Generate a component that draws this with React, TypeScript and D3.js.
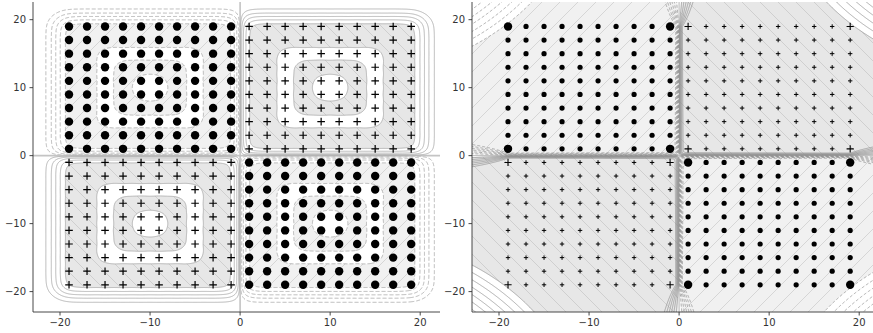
import React, { useMemo } from "react";
import * as d3 from "d3";

// ---------- data ----------
const coords = [-19, -17, -15, -13, -11, -9, -7, -5, -3, -1, 1, 3, 5, 7, 9, 11, 13, 15, 17, 19];
const quadrantCenters = [-10, 10];
const ringRadii = [1, 3, 5, 7, 9];
const ringWeights = [0.5, 1.0, 0.5, 1.0, 1.0];
const supportVectors: [number, number][] = [
  [-19, 19], [-1, 19], [-19, 1], [-1, 1],
  [1, 19], [19, 19], [1, 1], [19, 1],
  [-19, -1], [-1, -1], [-19, -19], [-1, -19],
  [1, -1], [19, -1], [1, -19], [19, -19],
];
const xTicks = [-20, -10, 0, 10, 20];
const yTicks = [-20, -10, 0, 10, 20];
const xLimits = [-23, 22.2];
const yLimits = [-23, 22.6];
const leftLevels = [-1.45, -1.0, -0.6, -0.3, -0.1, 0, 0.1, 0.3, 0.6, 1.0, 1.45];
const leftFillLevel = 1.45;
const rightLevels = [
  -6.2, -5.95, -5.7, -5.45, -5.2, -4.95, -4.7,
  -0.9, -0.75, -0.6, -0.45, -0.3, -0.15, 0,
  0.15, 0.3, 0.45, 0.6, 0.75, 0.9,
  4.7, 4.95, 5.2, 5.45, 5.7, 5.95, 6.2,
];
const rightFillBand = [0.1, 4.7];

const points = coords.flatMap((x) => coords.map((y) => ({ x, y, label: x * y > 0 ? 1 : -1 })));
const isSV = (x: number, y: number) => supportVectors.some(([a, b]) => a === x && b === y);

// ---------- layout ----------
const W = 407;
const H = 310;
const TOP = 2;
const LEFT_X = 33;
const RIGHT_X = 472;
const PAD = 10;
const GAMMA = 0.4;

const xs = d3.scaleLinear().domain(xLimits).range([0, W]);
const ys = d3.scaleLinear().domain(yLimits).range([H, 0]);
const NX = W + 2 * PAD;
const NY = H + 2 * PAD;

function leftField(): Float64Array {
  const colX = Float64Array.from({ length: NX }, (_, i) => xs.invert(-PAD + i + 0.5));
  const rowY = Float64Array.from({ length: NY }, (_, j) => ys.invert(-PAD + j + 0.5));
  const vals = new Float64Array(NX * NY);
  const ex = new Float64Array(NX);
  const ey = new Float64Array(NY);
  const R = 6;
  for (const p of points) {
    const cx = p.x > 0 ? quadrantCenters[1] : quadrantCenters[0];
    const cy = p.y > 0 ? quadrantCenters[1] : quadrantCenters[0];
    const r = Math.max(Math.abs(p.x - cx), Math.abs(p.y - cy));
    const alpha = ringWeights[ringRadii.indexOf(r)];
    const wgt = p.label * alpha;
    const i0 = Math.max(0, Math.floor(xs(p.x - R) + PAD));
    const i1 = Math.min(NX - 1, Math.ceil(xs(p.x + R) + PAD));
    const j0 = Math.max(0, Math.floor(ys(p.y + R) + PAD));
    const j1 = Math.min(NY - 1, Math.ceil(ys(p.y - R) + PAD));
    for (let i = i0; i <= i1; i++) ex[i] = Math.exp(-GAMMA * (colX[i] - p.x) ** 2);
    for (let j = j0; j <= j1; j++) ey[j] = Math.exp(-GAMMA * (rowY[j] - p.y) ** 2);
    for (let j = j0; j <= j1; j++) {
      const e = wgt * ey[j];
      const base = j * NX;
      for (let i = i0; i <= i1; i++) vals[base + i] += e * ex[i];
    }
  }
  return vals;
}

function rightField(): Float64Array {
  const vals = new Float64Array(NX * NY);
  const w = (t: number) => 0.3 + 0.45 * Math.max(0, Math.abs(t) - 19);
  for (let j = 0; j < NY; j++) {
    const y = ys.invert(-PAD + j + 0.5);
    for (let i = 0; i < NX; i++) {
      const x = xs.invert(-PAD + i + 0.5);
      vals[j * NX + i] = Math.tanh(x / w(y)) * Math.tanh(y / w(x)) * (1 + Math.abs(x * y) / 100);
    }
  }
  return vals;
}

const pathGen = d3.geoPath();
function contourPath(values: number[], t: number): string {
  const c = d3.contours().size([NX, NY]).contour(values, t);
  return pathGen(c as any) || "";
}

function computePanel(field: Float64Array, levels: number[], band: number[]) {
  const pos = Array.from(field);
  const neg = pos.map((v) => -v);
  const fillPos = band.map((t) => contourPath(pos, t)).join(" ");
  const fillNeg = band.map((t) => contourPath(neg, t)).join(" ");
  const lines = levels.map((t) => ({ t, d: contourPath(pos, t) }));
  return { fillPos, fillNeg, lines };
}

const fmt = (v: number) => (v < 0 ? "\u2212" + Math.abs(v) : String(v));

function Axes() {
  return (
    <g>
      <line x1={0} x2={0} y1={0} y2={H} stroke="#333" strokeWidth={0.9} />
      <line x1={0} x2={W} y1={H} y2={H} stroke="#333" strokeWidth={0.9} />
      {xTicks.map((v) => (
        <g key={"x" + v} transform={`translate(${xs(v)},${H})`}>
          <line y2={3.5} stroke="#333" strokeWidth={0.9} />
          <text y={14} textAnchor="middle" fontSize={10} fill="#333" fontFamily="DejaVu Sans">{fmt(v)}</text>
        </g>
      ))}
      {yTicks.map((v) => (
        <g key={"y" + v} transform={`translate(0,${ys(v)})`}>
          <line x2={-3.5} stroke="#333" strokeWidth={0.9} />
          <text x={-7} y={3.6} textAnchor="end" fontSize={10} fill="#333" fontFamily="DejaVu Sans">{fmt(v)}</text>
        </g>
      ))}
    </g>
  );
}

function Markers({ variable }: { variable: boolean }) {
  return (
    <g>
      {points.map((p) => {
        const cx = xs(p.x);
        const cy = ys(p.y);
        const big = !variable || isSV(p.x, p.y);
        if (p.label < 0) {
          const r = variable ? (big ? 4.2 : 2.6) : 4.2;
          return <circle key={`${p.x},${p.y}`} cx={cx} cy={cy} r={r} fill="#000" />;
        }
        const h = variable ? (big ? 3.6 : 2.2) : 3.8;
        const sw = variable ? (big ? 1.1 : 1.0) : 1.2;
        return (
          <path key={`${p.x},${p.y}`} d={`M${cx - h},${cy}H${cx + h}M${cx},${cy - h}V${cy + h}`} stroke="#000" strokeWidth={sw} />
        );
      })}
    </g>
  );
}

export default function App() {
  const left = useMemo(() => computePanel(leftField(), leftLevels, [leftFillLevel]), []);
  const right = useMemo(() => computePanel(rightField(), rightLevels, rightFillBand), []);

  return (
    <svg width={873} height={333} style={{ position: "absolute", left: 0, top: 0, background: "#fff" }}>
      <defs>
        <pattern id="hatchNeg" patternUnits="userSpaceOnUse" width={18} height={18}>
          <rect width={18} height={18} fill="#f1f1f1" />
          <path d="M-4.5,4.5L4.5,-4.5M0,18L18,0M13.5,22.5L22.5,13.5" stroke="#cacaca" strokeWidth={0.7} />
        </pattern>
        <pattern id="hatchPos" patternUnits="userSpaceOnUse" width={18} height={18}>
          <rect width={18} height={18} fill="#e7e7e7" />
          <path d="M-4.5,13.5L4.5,22.5M0,0L18,18M13.5,-4.5L22.5,4.5" stroke="#c4c4c4" strokeWidth={0.7} />
        </pattern>
        <clipPath id="plotClip">
          <rect x={0} y={0} width={W} height={H} />
        </clipPath>
      </defs>

      {/* left panel */}
      <g transform={`translate(${LEFT_X},${TOP})`}>
        <g clipPath="url(#plotClip)">
          <g transform={`translate(${-PAD},${-PAD})`}>
            <path d={left.fillNeg} fill="url(#hatchNeg)" fillRule="evenodd" />
            <path d={left.fillPos} fill="url(#hatchPos)" fillRule="evenodd" />
            {left.lines.map((l) => (
              <path
                key={l.t}
                d={l.d}
                fill="none"
                stroke={l.t === 0 ? "#c4c4c4" : "#a6a6a6"}
                strokeWidth={l.t === 0 ? 1.6 : 0.8}
                strokeDasharray={l.t < 0 ? "4,2" : undefined}
              />
            ))}
          </g>
          <Markers variable={false} />
        </g>
        <Axes />
      </g>

      {/* right panel */}
      <g transform={`translate(${RIGHT_X},${TOP})`}>
        <g clipPath="url(#plotClip)">
          <g transform={`translate(${-PAD},${-PAD})`}>
            <path d={right.fillNeg} fill="url(#hatchNeg)" fillRule="evenodd" />
            <path d={right.fillPos} fill="url(#hatchPos)" fillRule="evenodd" />
            {right.lines.map((l) => (
              <path
                key={l.t}
                d={l.d}
                fill="none"
                stroke="#8c8c8c"
                strokeWidth={0.7}
                strokeDasharray={l.t < 0 ? "3,2" : undefined}
              />
            ))}
          </g>
          <Markers variable={true} />
        </g>
        <Axes />
      </g>
    </svg>
  );
}
